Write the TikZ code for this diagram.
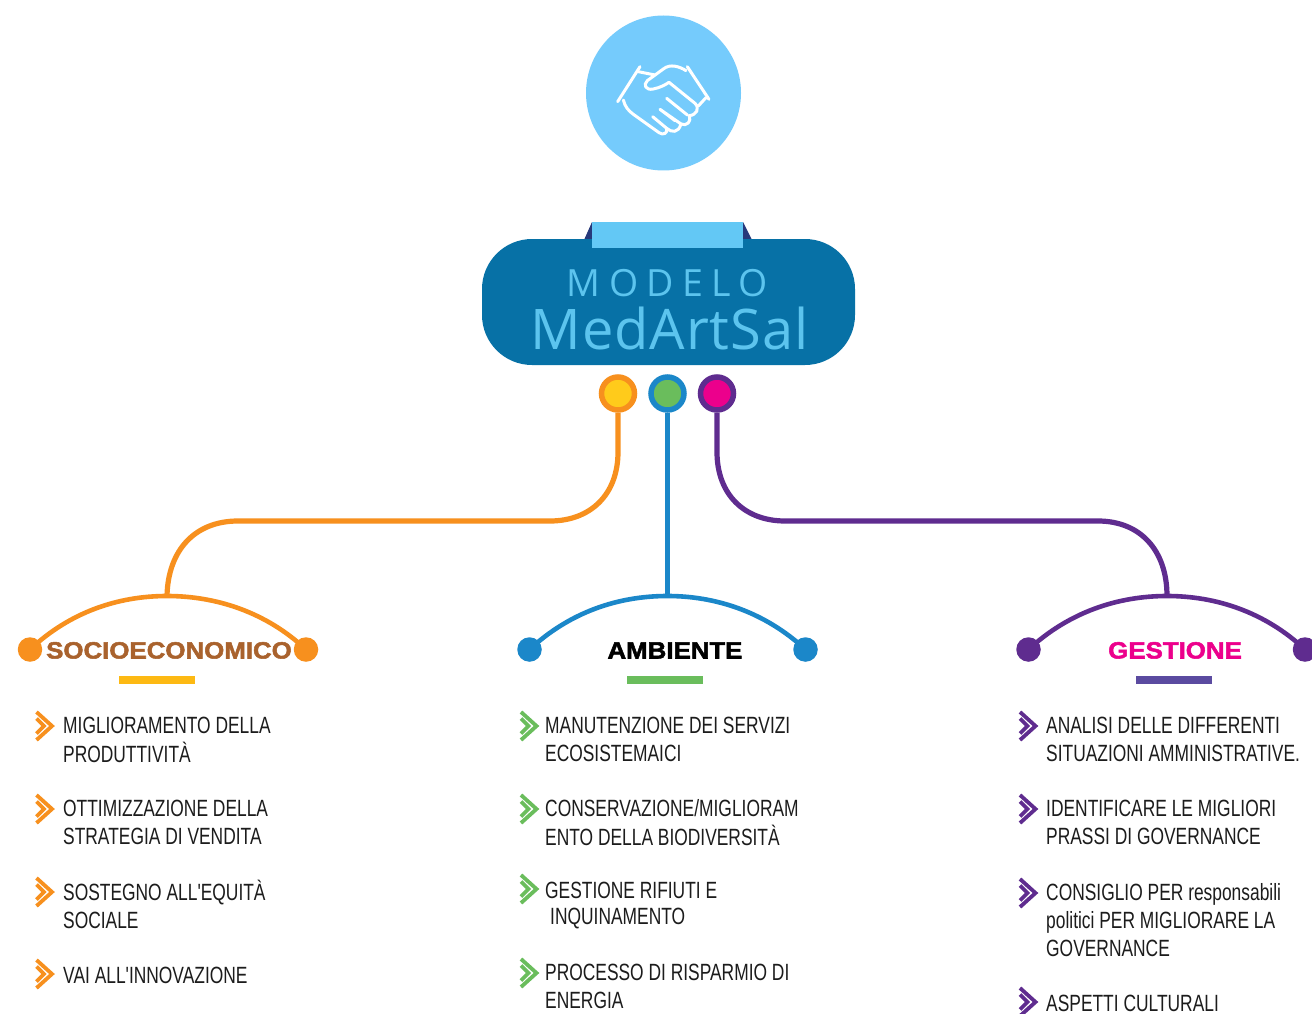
\documentclass[tikz,border=0pt]{standalone}
\usepackage{fontspec}
\setmainfont{Liberation Sans}
\newfontfamily\itemfont[FakeStretch=0.74]{Liberation Sans}
\newfontfamily\headfont[FakeStretch=1.1,FakeBold=2.2]{Liberation Sans Bold}
\newfontfamily\titlefont[LetterSpace=1.6]{Open Sans}
\newfontfamily\modelofont[LetterSpace=22.5]{Open Sans}
\definecolor{skyc}{HTML}{75CBFC}
\definecolor{bandc}{HTML}{0771A6}
\definecolor{tabc}{HTML}{63C8F5}
\definecolor{foldc}{HTML}{27397B}
\definecolor{titlec}{HTML}{5CC4EE}
\definecolor{orangec}{HTML}{F7901E}
\definecolor{yellowc}{HTML}{FFCB1B}
\definecolor{barc}{HTML}{FDB913}
\definecolor{bluec}{HTML}{1B87C9}
\definecolor{greenc}{HTML}{6ABD5C}
\definecolor{purplec}{HTML}{5F2C8F}
\definecolor{pinkc}{HTML}{EC008C}
\definecolor{barp}{HTML}{5B4BA0}
\definecolor{brownc}{HTML}{A9622D}
\definecolor{textc}{HTML}{1C1C1C}
\tikzset{
  dotnode/.style={circle,inner sep=0,minimum size=33pt,line width=5.5pt},
  endnode/.style={circle,inner sep=0,minimum size=24.5pt,fill=#1},
  wire/.style={line width=5.2pt,#1},
  arcline/.style={line width=4.6pt,#1},
  headtxt/.style={anchor=base,inner sep=0,font=\headfont\fontsize{23.5}{28}\selectfont},
  itemtxt/.style={anchor=north west,inner sep=0,align=left,text=textc,font=\itemfont\fontsize{23.5}{28}\selectfont},
  barnode/.style={inner sep=0,minimum width=76pt,minimum height=8pt,fill=#1},
  chev/.pic={
    \draw[line width=3.8pt,pic actions] (-7.5,-14) -- (8,0) -- (-7.5,14);
    \draw[line width=3.8pt,pic actions] (-7.5,-7.5) -- (0,0) -- (-7.5,7.5);
  },
  hand/.style={draw=white,line width=3pt,line cap=round,line join=round}
}
\newcommand{\chevat}[3]{\path (#1,#2) pic[draw=#3] {chev};}
\begin{document}
\begin{tikzpicture}[x=1pt,y=-1pt]
\useasboundingbox (0,0) rectangle (1312,1014);
\fill[white] (0,0) rectangle (1312,1014);
% top circle and handshake
\node[circle,fill=skyc,inner sep=0,minimum size=155pt] (sky) at (663.5,93) {};
\begin{scope}[shift={(560,0)},x=0.3333pt,y=-0.3333pt,hand]
  \draw (240,200) -- (173,305);
  \draw (382,200) -- (447,298);
  \draw (235,215) -- (285,225);
  \draw (415,318) -- (438,293);
  \draw (190,300) .. controls (195,320) and (205,332) .. (220,343) -- (297,398)
     .. controls (310,408) and (325,398) .. (320,385) -- (278,350);
  \draw (300,328) -- (345,362) (320,385) .. controls (335,398) and (355,400) .. (363,372) -- (300,328);
  \draw (320,295) -- (382,345) (363,372) .. controls (380,380) and (395,365) .. (388,347);
  \draw (327,247) -- (405,310) .. controls (420,325) and (410,345) .. (388,347);
  \draw (378,212) .. controls (360,200) and (330,190) .. (310,207) -- (262,242)
     .. controls (248,255) and (258,272) .. (280,267) .. controls (300,263) and (315,255) .. (327,247);
\end{scope}
% title band
\fill[foldc] (584,240) -- (592,222) -- (743,222) -- (752,240) -- cycle;
\node[fill=bandc,rounded corners=50pt,inner sep=0,minimum width=373pt,minimum height=126pt] (band) at (668.5,302) {};
\node[fill=tabc,inner sep=0,minimum width=151pt,minimum height=26pt] (tab) at (667.5,235) {};
\node[anchor=base,inner sep=0,text=titlec,font=\modelofont\fontsize{37.5}{40}\selectfont] (modelo) at (667.5,296) {MODELO};
\node[anchor=base,inner sep=0,text=titlec,font=\titlefont\fontsize{56}{60}\selectfont] (medart) at (669.5,349) {MedArtSal};
% connectors
\coordinate (a1) at (167,596);
\coordinate (a2) at (667.5,596);
\coordinate (a3) at (1167,596);
\node[dotnode,draw=orangec,fill=yellowc] (d1) at (618,393.5) {};
\node[dotnode,draw=bluec,fill=greenc] (d2) at (667.5,393.5) {};
\node[dotnode,draw=purplec,fill=pinkc] (d3) at (717,393.5) {};
\draw[wire=orangec] (d1.south) -- (618,452) .. controls (618,495) and (590,521) .. (550,521) -- (238,521) .. controls (195,521) and (168,550) .. (a1);
\draw[wire=bluec] (d2.south) -- (a2);
\draw[wire=purplec] (d3.south) -- (717,452) .. controls (717,495) and (745,521) .. (785,521) -- (1098,521) .. controls (1140,521) and (1167,550) .. (a3);
% arcs
\node[endnode=orangec] (l1) at (30,649.5) {};
\node[endnode=orangec] (r1) at (306,649.5) {};
\node[endnode=bluec] (l2) at (529.5,649.5) {};
\node[endnode=bluec] (r2) at (805.5,649.5) {};
\node[endnode=purplec] (l3) at (1028.5,649.5) {};
\node[endnode=purplec] (r3) at (1305,649.5) {};
\draw[arcline=orangec] (l1.center) .. controls (70,612) and (118,596) .. (a1) .. controls (216,596) and (266,612) .. (r1.center);
\draw[arcline=bluec] (l2.center) .. controls (570,612) and (618,596) .. (a2) .. controls (716,596) and (765,612) .. (r2.center);
\draw[arcline=purplec] (l3.center) .. controls (1069,612) and (1118,596) .. (a3) .. controls (1216,596) and (1265,612) .. (r3.center);
% headings
\node[headtxt,text=brownc] (h1) at (169,658.5) {SOCIOECONOMICO};
\node[headtxt,text=black] (h2) at (675,658.5) {AMBIENTE};
\node[headtxt,text=pinkc] (h3) at (1175,658.5) {GESTIONE};
\node[barnode=barc] (b1) at (157,680) {};
\node[barnode=greenc] (b2) at (665,680) {};
\node[barnode=barp] (b3) at (1174,680) {};
% left column
\chevat{44}{726}{orangec}
\chevat{44}{809}{orangec}
\chevat{44}{892}{orangec}
\chevat{44}{974}{orangec}
\node[itemtxt] (s1) at (63,713.4) {\strut MIGLIORAMENTO DELLA\\PRODUTTIVITÀ};
\node[itemtxt] (s2) at (63,796.4) {\strut OTTIMIZZAZIONE DELLA\\STRATEGIA DI VENDITA};
\node[itemtxt] (s3) at (63,880.4) {\strut SOSTEGNO ALL'EQUITÀ\\SOCIALE};
\node[itemtxt] (s4) at (63,963.4) {\strut VAI ALL'INNOVAZIONE};
% middle column
\chevat{528.5}{726}{greenc}
\chevat{528.5}{809}{greenc}
\chevat{528.5}{889}{greenc}
\chevat{528.5}{973}{greenc}
\node[itemtxt] (m1) at (545,713.4) {\strut MANUTENZIONE DEI SERVIZI\\ECOSISTEMAICI};
\node[itemtxt] (m2) at (545,796.4) {\strut CONSERVAZIONE/MIGLIORAM\\ENTO DELLA BIODIVERSITÀ};
\node[itemtxt] (m3) at (545,878.4) {\strut GESTIONE RIFIUTI E\\[-2pt]\hspace*{5pt}INQUINAMENTO};
\node[itemtxt] (m4) at (545,960.4) {\strut PROCESSO DI RISPARMIO DI\\ENERGIA};
% right column
\chevat{1027.5}{726}{purplec}
\chevat{1027.5}{809}{purplec}
\chevat{1027.5}{893}{purplec}
\chevat{1027.5}{1002}{purplec}
\node[itemtxt] (g1) at (1046,713.4) {\strut ANALISI DELLE DIFFERENTI\\SITUAZIONI AMMINISTRATIVE.};
\node[itemtxt] (g2) at (1046,796.4) {\strut IDENTIFICARE LE MIGLIORI\\PRASSI DI GOVERNANCE};
\node[itemtxt] (g3) at (1046,880.4) {\strut CONSIGLIO PER responsabili\\politici PER MIGLIORARE LA\\GOVERNANCE};
\node[itemtxt] (g4) at (1046,991.4) {\strut ASPETTI CULTURALI};
\end{tikzpicture}
\end{document}
